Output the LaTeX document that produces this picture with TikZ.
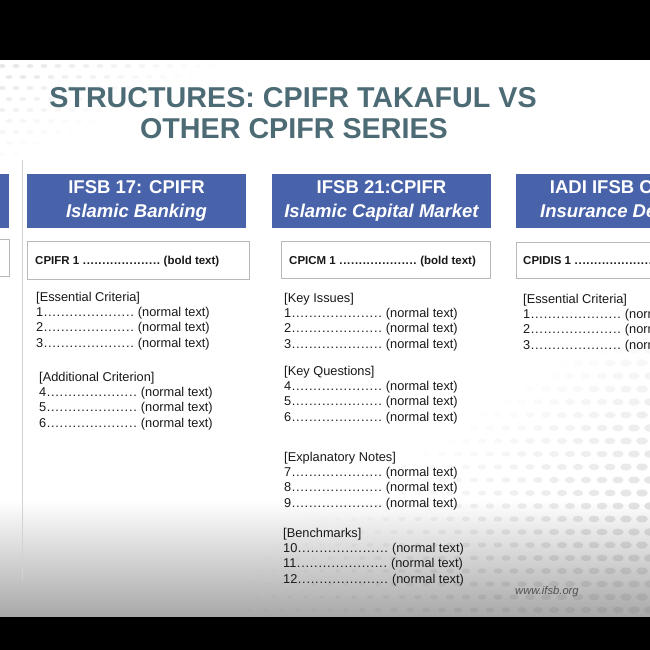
\documentclass[tikz,border=0pt]{standalone}
\usepackage{fontspec}
\setmainfont{Liberation Sans}
\definecolor{hdrblue}{RGB}{73,99,170}
\definecolor{titlecol}{RGB}{76,107,117}
\definecolor{txtcol}{RGB}{25,25,25}
\definecolor{boxline}{RGB}{185,185,185}
\definecolor{bottomgray}{RGB}{168,168,168}
\definecolor{urlgray}{RGB}{80,80,80}
\newcommand\mydots[2]{\hbox to #1{\xleaders\hbox to #2{\hss.\hss}\hfill}}
\tikzset{
  hdr/.style={fill=hdrblue, text=white, font=\fontsize{18.5}{24}\selectfont\bfseries,
    minimum width=219pt, minimum height=54pt, inner sep=0pt, align=center},
  wbox/.style={draw=boxline, fill=white, line width=0.8pt, anchor=north west, inner sep=0pt},
  bt/.style={font=\fontsize{11.5}{14}\selectfont\bfseries, text=txtcol, inner sep=0pt, anchor=base west},
  lt/.style={font=\fontsize{12.8}{15}\selectfont, text=txtcol, inner sep=0pt, anchor=base west},
  ttl/.style={font=\fontsize{28.7}{31}\selectfont\bfseries, text=titlecol, inner sep=0pt, anchor=base}
}
\newcommand\listblock[6]{%
  \node[lt] (#1h) at (#2,#3) {#4};
  \foreach \n [count=\k] in {#5,...,#6} {
    \node[lt] (#1r\n) at (#2,#3+15.2*\k) {\n\mydots{91pt}{4.2pt} (normal text)};
  }%
}
\begin{document}
\begin{tikzpicture}[x=1pt,y=-1pt]
\useasboundingbox (0,0) rectangle (650,650);
\clip (0,0) rectangle (650,650);
% background
\fill[white] (0,0) rectangle (650,650);
\fill[top color=white, bottom color=bottomgray] (0,500) rectangle (650,617);
% halftone dots lower right
\foreach \r in {0,...,20}{\foreach \c in {0,...,25}{
  \pgfmathsetmacro\xx{250+\c*16+mod(\r,2)*8}
  \pgfmathsetmacro\yy{350+\r*13}
  \pgfmathsetmacro\rr{2+4*(\xx-250)/400}
  \pgfmathsetmacro\op{max(0,min(1,(\xx-330)/320+(\yy-420)/200-0.4))*0.22}
  \fill[gray, opacity=\op] (\xx,\yy) ellipse ({\rr} and {\rr*0.6});
}}
% halftone dots upper left
\foreach \r in {0,...,9}{\foreach \c in {0,...,19}{
  \pgfmathsetmacro\xx{2+\c*14+mod(\r,2)*7}
  \pgfmathsetmacro\yy{66+\r*11}
  \pgfmathsetmacro\op{max(0,min(1,1-(\xx/240+(\yy-61)/110)))*0.2}
  \fill[gray, opacity=\op] (\xx,\yy) ellipse (3.5 and 2);
}}
% black bars
\fill[black] (0,0) rectangle (650,60);
\fill[black] (0,617) rectangle (650,650);
% vertical separator
\draw[line width=1.5pt, color={rgb,255:red,210;green,210;blue,210}] (22.5,160) -- (22.5,580);
% title
\node[ttl] (t1) at (293,107.5) {STRUCTURES: CPIFR TAKAFUL VS};
\node[ttl] (t2) at (294,138.5) {OTHER CPIFR SERIES};
% left partial column
\fill[hdrblue] (-200,174) rectangle (9,228);
\draw[boxline, fill=white, line width=0.8pt] (-200,239) rectangle (9,276);
% headers
\node[hdr] (h1) at (136.5,201) {IFSB 17: CPIFR\\\itshape Islamic Banking};
\node[hdr] (h2) at (381.5,201) {IFSB 21:CPIFR\\\itshape Islamic Capital Market};
\node[hdr] (h3) at (625.5,201) {IADI IFSB CPIDIS\\\itshape Insurance Deposits};
% white boxes
\node[wbox, minimum width=222pt, minimum height=38pt] (b1) at (27,241) {};
\node[wbox, minimum width=209pt, minimum height=37pt] (b2) at (281,241) {};
\node[wbox, minimum width=222pt, minimum height=36pt] (b3) at (516,242) {};
\node[bt] (b1t) at (35,264.2) {CPIFR 1 \mydots{78pt}{3.8pt} (bold text)};
\node[bt] (b2t) at (289,264.2) {CPICM 1 \mydots{78pt}{3.8pt} (bold text)};
\node[bt] (b3t) at (523,264.2) {CPIDIS 1 \mydots{78pt}{3.8pt} (bold text)};
% lists
\listblock{ca}{36}{301.5}{[Essential Criteria]}{1}{3}
\listblock{cb}{39}{381.5}{[Additional Criterion]}{4}{6}
\listblock{da}{284}{302.5}{[Key Issues]}{1}{3}
\listblock{db}{284}{375.5}{[Key Questions]}{4}{6}
\listblock{dc}{284}{461.5}{[Explanatory Notes]}{7}{9}
\listblock{dd}{283}{537.5}{[Benchmarks]}{10}{12}
\listblock{ea}{523}{303.5}{[Essential Criteria]}{1}{3}
% url
\node[font=\fontsize{11.2}{13}\selectfont\itshape, text=urlgray, inner sep=0pt, anchor=base west] (url) at (515,594) {www.ifsb.org};
\end{tikzpicture}
\end{document}
